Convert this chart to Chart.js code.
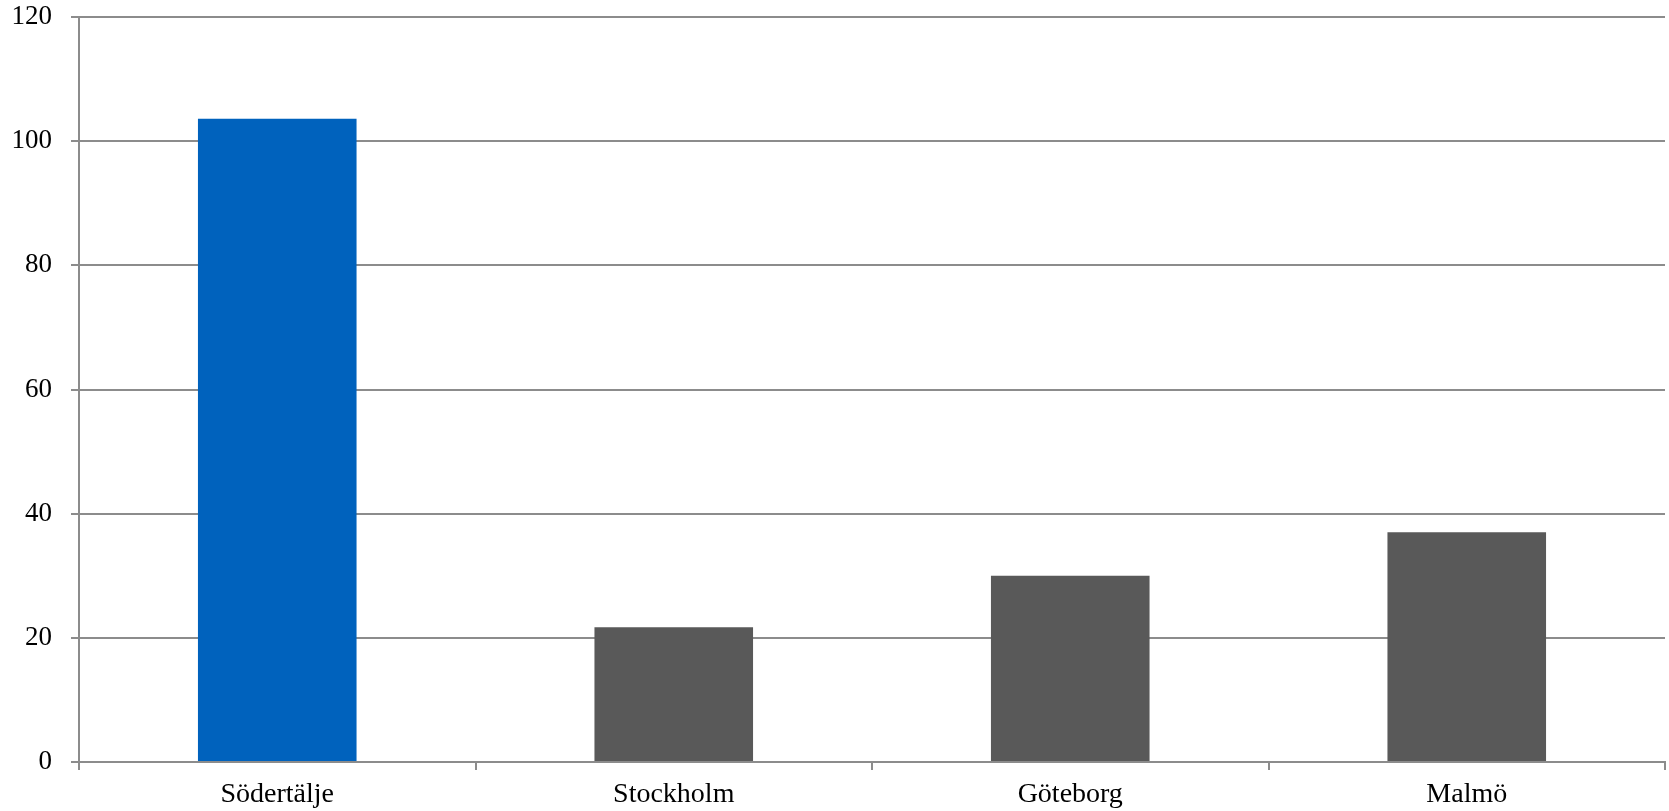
<!DOCTYPE html>
<html>
<head>
<meta charset="utf-8">
<script src="https://cdn.jsdelivr.net/npm/chart.js@4/dist/chart.umd.min.js"></script>
<style>
    html, body { margin: 0; padding: 0; background: #ffffff; }
    #wrap { position: relative; width: 1669px; height: 811px; }
</style>
</head>
<body>
<div id="wrap"><canvas id="city-chart"></canvas></div>
<script>
const cities = ['Södertälje', 'Stockholm', 'Göteborg', 'Malmö'];
const values = [103.6, 21.7, 30.0, 37.0];
const yTicks = [0, 20, 40, 60, 80, 100, 120];

const gridColor = '#8c8c8c';
const serif = '"Liberation Serif", "DejaVu Serif", serif';

document.addEventListener('DOMContentLoaded', () => {
    const ctx = document.getElementById('city-chart').getContext('2d');

    new Chart(ctx, {
        type: 'bar',
        data: {
            labels: cities,
            datasets: [{
                data: values,
                backgroundColor: ['#0062bd', '#595959', '#595959', '#595959'],
                borderWidth: 0,
                barPercentage: 0.4,
                categoryPercentage: 1.0
            }]
        },
        options: {
            responsive: true,
            maintainAspectRatio: false,
            animation: false,
            layout: {
                padding: { top: 17, right: 4, left: 0, bottom: 0 }
            },
            scales: {
                x: {
                    offset: true,
                    afterFit: (scale) => {
                        scale.height = 49;
                        scale.paddingLeft = 0;
                        scale.paddingRight = 0;
                    },
                    border: { color: gridColor, width: 2 },
                    grid: {
                        offset: true,
                        drawOnChartArea: false,
                        drawTicks: true,
                        tickLength: 8,
                        color: gridColor,
                        lineWidth: 2
                    },
                    ticks: {
                        color: '#000000',
                        padding: 8,
                        maxRotation: 0,
                        font: { family: serif, size: 28 }
                    }
                },
                y: {
                    min: 0,
                    max: 120,
                    afterFit: (scale) => {
                        scale.width = 79;
                        scale.paddingTop = 0;
                        scale.paddingBottom = 0;
                    },
                    afterBuildTicks: (scale) => {
                        scale.ticks = yTicks.map(v => ({ value: v }));
                    },
                    border: { color: gridColor, width: 2 },
                    grid: {
                        color: gridColor,
                        lineWidth: 2,
                        tickLength: 8
                    },
                    ticks: {
                        color: '#000000',
                        padding: 19,
                        font: { family: serif, size: 27 }
                    }
                }
            },
            plugins: {
                legend: { display: false },
                tooltip: { enabled: false }
            }
        }
    });
});
</script>
</body>
</html>
